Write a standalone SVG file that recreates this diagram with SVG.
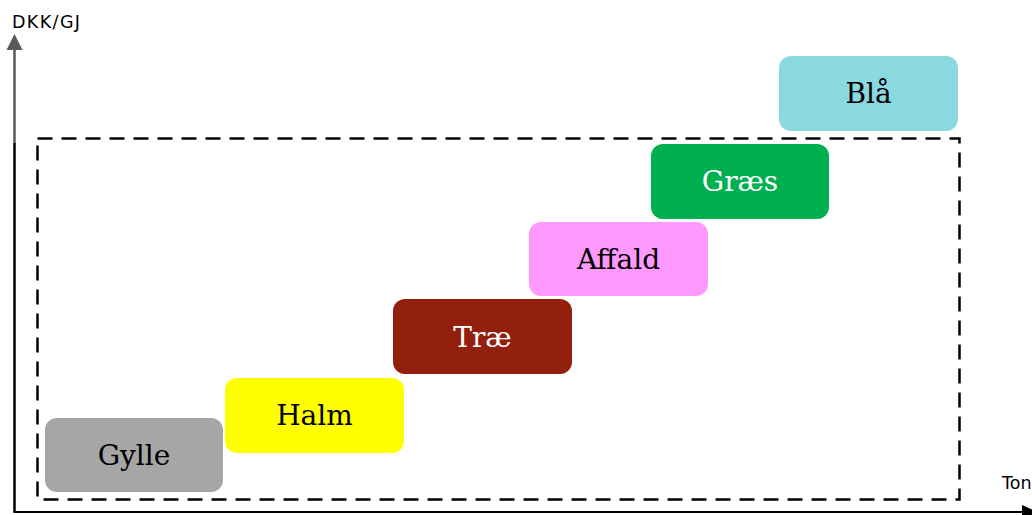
<svg xmlns="http://www.w3.org/2000/svg" width="1032" height="515" viewBox="0 0 1032 515">
<style>
.box{stroke:none}
.lbl{font-family:"DejaVu Serif","Liberation Serif",serif;font-size:28px;text-anchor:middle}
.ax{font-family:"DejaVu Sans","Verdana",sans-serif;font-size:17.5px;fill:#000}
</style>
<rect width="1032" height="515" fill="#fff"/>
<g id="axes">
<line x1="14.5" y1="512" x2="14.5" y2="48" stroke="#595959" stroke-width="2.5"/>
<polygon points="14.5,34 6.5,50 22.5,50" fill="#595959"/>
<line x1="14.5" y1="143" x2="14.5" y2="512" stroke="#000" stroke-width="2"/>
<line x1="13.5" y1="512" x2="1026" y2="512" stroke="#000" stroke-width="2"/>
<polygon points="1038,512 1022,505 1022,519" fill="#000"/>
<text class="ax" x="12" y="28" textLength="68" lengthAdjust="spacing">DKK/GJ</text>
<text class="ax" x="1002" y="488.5">Ton</text>
</g>
<g id="frame">
<rect x="37.5" y="138.5" width="922" height="361" fill="none" stroke="#000" stroke-width="2.5" stroke-dasharray="15 9"/>
</g>
<g id="gylle"><rect class="box" x="45" y="418" width="178" height="74" rx="12" fill="#a6a6a6"/><text class="lbl" x="134" y="465" fill="#000">Gylle</text></g>
<g id="halm"><rect class="box" x="225" y="378" width="179" height="75" rx="12" fill="#ffff00"/><text class="lbl" x="314.5" y="425" fill="#000">Halm</text></g>
<g id="trae"><rect class="box" x="393" y="299" width="179" height="75" rx="12" fill="#92200d"/><text class="lbl" x="482.5" y="347" fill="#fff">Træ</text></g>
<g id="affald"><rect class="box" x="529" y="222" width="179" height="74" rx="12" fill="#ff99ff"/><text class="lbl" x="618.5" y="269" fill="#000">Affald</text></g>
<g id="graes"><rect class="box" x="651" y="144" width="178" height="75" rx="12" fill="#00b050"/><text class="lbl" x="740" y="191" fill="#fff">Græs</text></g>
<g id="blaa"><rect class="box" x="779" y="56" width="179" height="75" rx="12" fill="#8ad8e0"/><text class="lbl" x="868.5" y="103" fill="#000">Blå</text></g>
</svg>
